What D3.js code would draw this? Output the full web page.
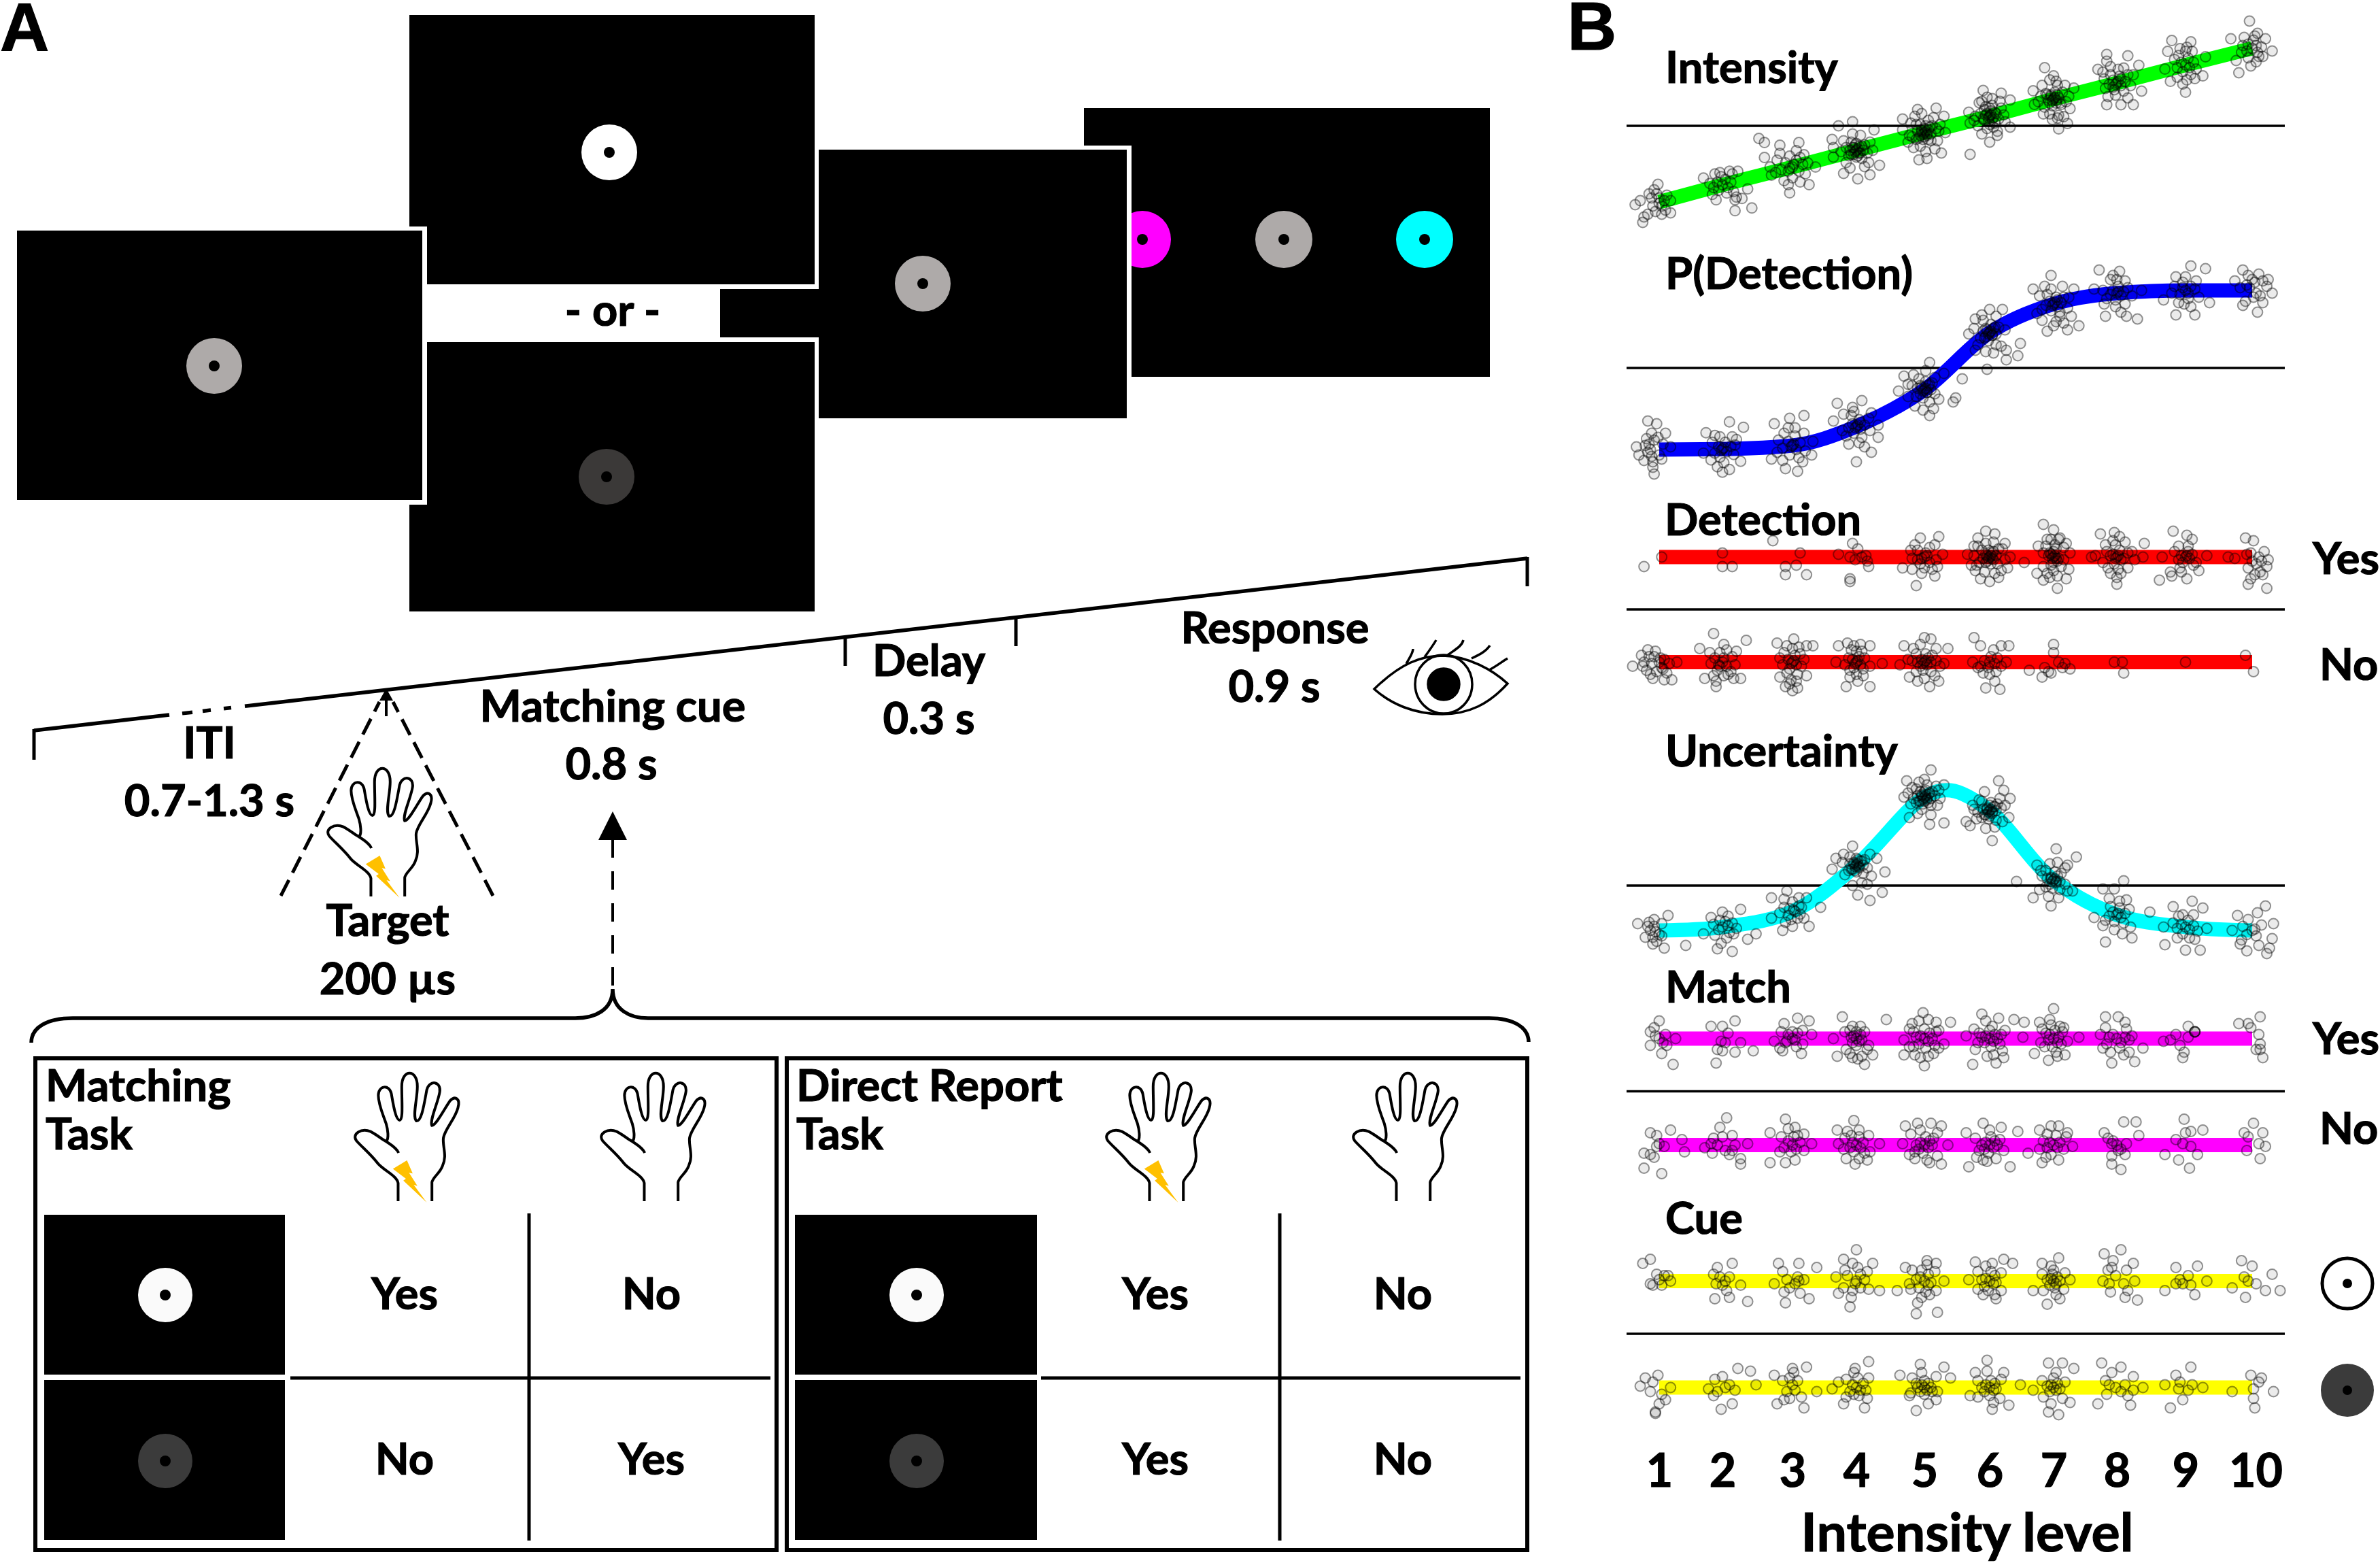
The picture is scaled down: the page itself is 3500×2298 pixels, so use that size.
<!DOCTYPE html>
<html>
<head>
<meta charset="utf-8">
<script src="https://cdnjs.cloudflare.com/ajax/libs/d3/7.8.5/d3.min.js"></script>
<style>
body {margin: 0; background: #fff;}
text {font-family: Lato, "Open Sans", sans-serif; font-weight: 700; fill: #000; stroke: #000; stroke-width: 1.2px;}
</style>
</head>
<body>
<script>
//panel B data: intensity levels and the model curves
var levels = [1, 2, 3, 4, 5, 6, 7, 8, 9, 10];
var intensityValues = [0, 12.6, 25.7, 38, 51, 63, 75.7, 87.5, 100.7, 113];
var pDetectionValues = [0, 0.4, 3, 17, 44, 86, 107, 115, 117, 117];
var uncertaintyLevels = [1, 2, 3, 4, 5, 5.4, 6, 7, 8, 9, 10];
var uncertaintyValues = [0, 2.5, 14, 48, 98, 103, 88, 37, 11.5, 2.5, 0];
var flatValues = [0, 0, 0, 0, 0, 0, 0, 0, 0, 0];

//per level dots, flat dx,dy pairs around the curve
var intensityDots = [
[-19,-2,-12,-11,-13,-15,-9,-9,-15,1,-1,13,-2,6,-4,9,9,-8,2,-9,5,-6,-5,-3,4,1,0,3,9,1,-6,3,0,-1,2,-3,-3,-7,6,5,-8,6],
[21,-17,9,-19,14,-10,9,-11,-15,5,5,10,11,10,18,-3,-2,9,0,0,-4,2,4,-2,2,4,-3,-4,6,2,-7,-2,3,-6,-1,6,8,-5,-10,1,-6,8,7,8,-8,-7,10,-9,-5,-11],
[-24,21,-20,18,-20,7,-9,16,5,18,-2,-19,13,-13,18,0,-15,-6,-16,0,0,0,-5,3,5,-3,-3,-3,3,5,8,2,-8,-2,0,-8,-2,8,10,-5,6,7,-11,5,1,2,-2,-1,-9,10,9,9,-6,-10,6,-11,12,3,-12,-4,3,12,-3,-13],
[-14,18,-3,21,13,15,-19,8,-18,2,-10,-17,1,-21,10,-18,17,-11,-18,-5,0,0,-3,2,3,-2,2,3,-2,-3,5,0,-5,0,0,5,0,-5,6,4,-6,-4,4,-6,-4,6,8,-2,-8,2,9,-9,1,1,-1,-1,2,-2,-2,2,4,3,-4,-3,1,-4,-1,4,-10,7,10,6,-8,-9,6,-12,-3,12,3,11,12,0,-12,-1,-5,-13],
[9,18,-5,17,-16,10,15,12,-4,-20,13,-15,2,-19,16,0,-16,2,0,0,-2,2,2,-2,3,2,-3,-2,5,-1,-5,1,1,5,-1,-5,6,5,-6,-5,5,-6,-6,6,9,3,-9,-3,3,9,-3,-10,10,-6,-10,7,1,1,-1,-1,2,-1,-2,1,4,4,-4,-4,0,3,0,-3,3,-5,-3,6,-7,12,7,11,-11,-2,11,1,-8,-11,8,-12,-2,14,1,-14,-12,-7,12,6],
[-15,-28,-5,19,9,17,0,-19,-15,-5,16,-8,16,12,-16,3,0,0,-3,1,3,-1,1,4,-1,-4,5,2,-5,-2,4,-5,-4,5,7,-2,-7,2,2,8,-2,-9,9,6,-9,-7,6,-11,-6,11,11,1,-11,0,1,1,-1,-1,2,-2,-2,2,4,3,-4,-3,0,6,0,-6,3,-8,-3,7,-8,10,8,11,-12,-3,12,-4,-6,-13,6,-14,-2,14,2,13],
[-7,23,0,17,4,-22,11,-18,-15,-4,-16,6,16,8,13,-7,0,0,-2,3,2,-3,4,1,-4,-1,1,5,-1,-5,6,-4,-6,4,7,5,-7,-6,3,10,-3,-11,10,-2,-10,2,4,-12,1,1,-1,-1,2,-1,-2,2,3,3,-3,-3,5,-3,-5,3,-9,10,9,10,-12,-2,12,2,-8,-11,8,-13,-3,14,2,13,-1,-15,3,-14],
[-8,21,8,20,-15,10,-8,-16,3,-16,12,-16,16,13,18,-6,-8,16,0,0,-3,2,3,-2,2,5,-2,-5,6,1,-6,-1,5,-6,-5,6,8,6,-9,-4,1,10,-1,-9,1,1,-1,-1,3,3,-3,-3,-10,3,10,-2,-5,12,5,11,-7,-10,8,-11,-11,8,12,6],
[-10,18,4,17,0,-20,-11,-12,13,-8,15,6,-13,10,-15,-3,0,0,-3,2,3,-2,2,5,-2,-5,6,2,-6,-2,4,-7,-5,7,0,10,1,-11,-8,4,8,-3,-4,12,5,10,-6,-9,7,-10,-2,-14,1,13],
[-2,20,15,-2,-10,-18,4,11,-16,7,-12,-9,10,7,3,-10,8,-6,0,0,3,2,-3,3,4,-3,-4,-2,1,6,7,1,-7,2,-6,8,5,-6,-3,-7,-8,-3,2,9,-1,-13]];
var pDetectionDots = [
[-9,21,-2,19,5,12,-18,2,-16,-4,-5,-13,-4,-18,9,2,-7,0,-8,4,-6,-5,-9,-2,-4,7,-5,-9,0,-4,-10,8,3,4,-12,-8,-11,3,-6,12,2,-7,-1,9],
[5,20,15,16,-13,12,0,-17,13,-9,5,-15,-15,-3,0,0,-3,2,3,-2,2,5,-2,-6,6,2,-6,-3,1,-10,-2,9,8,-4,-8,5,1,1,-1,-1,-6,10,7,9,-9,-8,9,3,-4,-13,10,7],
[9,22,-2,20,-13,16,4,-19,15,-7,-15,-10,16,3,-5,-17,0,0,-3,3,3,-3,2,7,-2,-7,6,2,-7,-2,5,-9,-6,9,9,9,1,1,-1,-1,-10,4,10,-4,-7,-11,2,13,-3,13,-11,-5,8,-12],
[-15,17,4,19,16,-8,0,-26,11,-19,-18,4,16,1,0,0,-3,2,3,-2,2,5,-2,-5,6,1,-6,-1,4,-8,-4,8,9,6,-8,-7,2,-12,-2,11,1,1,-1,-1,3,3,-10,9,-11,-3,10,-3,-6,-13,6,-15,-3,14,11,10],
[4,20,-15,10,-19,-1,24,-6,22,-9,29,8,4,-19,15,12,0,0,-2,2,2,-2,3,3,-3,-3,5,0,-5,1,1,6,-1,-6,6,5,-6,-5,-4,8,4,-9,8,-3,-9,3,1,1,-1,-1,2,-2,-3,3,4,4,-8,11,8,9,-12,-5,11,-7,-7,-12,7,-14,1,14,-1,-15,-12,4],
[0,17,10,17,-16,-1,24,-8,22,-17,-2,-27,13,-20,-11,10,0,0,-2,2,2,-2,3,3,-3,-3,5,-1,-5,1,1,6,-1,-6,7,4,-7,-4,5,-9,-5,9,9,-10,-9,-9,1,1,-1,-1,2,-2,-3,3,4,4,-4,-4,-12,3,12,2,-6,13,5,12,-3,-14,3,-15,13,-13,-11,-13],
[-2,21,-16,11,16,11,20,-16,11,-19,-5,-20,5,-9,-13,-7,0,0,-3,2,3,-2,2,5,-2,-5,6,1,-6,-1,5,-6,-5,7,8,5,-9,-4,-2,11,2,-13,11,-3,1,1,-1,-1,3,3,-11,6,12,5,-7,13,7,13,-9,-12,8,-14,0,-16,14,-9],
[-14,17,2,16,15,-19,7,-17,-9,-17,-18,3,18,2,0,0,-3,2,3,-2,1,5,-1,-5,5,1,-5,-1,0,10,-1,-10,8,4,-8,-4,6,-8,1,1,-5,10,6,9,-10,-8,11,-2,-11,2,3,-14,-3,13],
[4,18,15,16,18,-9,-7,-18,7,-18,-16,-7,-7,10,0,0,-2,2,2,-2,-2,6,2,-6,-4,-3,4,3,0,10,-1,-10,7,1,-8,3,8,7,-5,-9,4,-12,10,-5,-10,-2],
[-7,15,5,12,15,-2,4,-16,-13,7,11,3,-5,-8,-2,2,3,-2,0,8,-4,4,6,-4,1,-5,8,7,-9,2,2,6,-7,-11,-3,11,8,-9,12,8]];
var detectionYesDots = [
[-12,-7,2,0],
[0,3,0,-7,7,-7],
[-14,12,6,3,-5,-7,3,-6,-5,-13,11,-13],
[-3,10,-14,2,-5,0,4,0,8,-3,-5,-16,-5,-18,1,6,7,1,-1,-2,9,-7],
[11,15,-3,14,-16,-8,-6,-21,8,-14,14,2,0,0,-5,5,-5,-2,4,-4,-9,-1,0,-8,4,7,-2,-12,6,-9,-10,5,9,-2,-3,-5,2,1,-2,-1,-7,9,8,9,-9,-9,10,-7,1,3],
[-17,2,-14,-6,-12,8,-9,14,-3,19,4,17,12,10,16,0,14,-8,7,-15,0,-18,-7,-16,-11,-10,0,0,-3,2,3,-2,2,3,-2,-3,5,1,-5,-1,1,-5,-1,5,6,-5,-6,5,7,6,-8,-4,1,1,-1,-1,2,-1,-2,1,3,4,-3,-4,-9,8,10,6,-10,-6,9,-10,-3,10,3,11,-4,-11,4,-12,-12,1,12,-2],
[-8,24,0,20,5,14,-2,13,-12,8,-23,-4,-13,-12,-8,-17,3,-23,10,-16,12,-9,13,3,10,10,0,0,-3,3,3,-3,2,6,-2,-6,4,-1,-4,1,0,-10,1,9,-5,-12,6,-7,-6,8,1,1,-1,-1,2,-1,-2,2,0,4,0,-4,-8,3,8,-2,-5,13,4,13,-3,-15,3,-14,-8,-7,8,7],
[-13,17,-9,9,-2,18,2,15,20,10,-17,1,-20,0,-11,-4,19,0,-5,-12,0,-20,0,-15,8,-8,13,-2,11,4,0,0,-3,2,3,-2,2,5,-2,-5,5,-1,-5,1,1,-9,-1,9,1,1,-1,-1,-8,4,8,3,-7,-8,6,11,-3,12,3,-12],
[-9,19,1,16,5,13,-5,8,-19,-17,-11,-11,-10,-14,1,-16,-3,-11,10,-10,-17,0,16,1,0,0,-3,1,3,-1,2,4,-2,-4,5,2,-5,-2,1,1,-8,4,8,-4,-4,-8,6,-6,2,8],
[-5,14,1,12,-18,0,-13,-1,-3,-8,-1,-16,-3,-20,11,-23,11,-7,12,-2,9,4,-1,3,0,-3,3,-5,5,0,-4,2,2,-13,6,-11,8,-13,7,-3]];
var detectionNoDots = [
[-21,-3,-14,5,-12,0,-9,9,-7,-9,-13,-3,-5,-12,-2,-7,4,-13,10,-13,14,0,8,-1,3,-5,1,3,-4,4,-6,-1,0,0,4,2,2,-4,-10,-6,-8,4,-3,8,6,-8],
[-7,21,17,16,-18,10,13,-12,-5,-18,-5,-14,-14,-12,4,-9,-2,7,3,9,-6,3,7,4,0,0,-3,-2,3,-3,1,3,9,-2,-9,-1,-4,-6,6,-7,1,-10,-10,7,10,8,-7,-10,8,-12,1,13,-2,-3],
[-11,14,11,12,16,12,-5,-18,0,-21,4,-19,-9,-11,11,-10,1,17,-6,7,6,6,0,0,-3,2,3,-2,2,5,-2,-5,-7,-2,7,-3,4,-9,-4,-8,0,10,-1,-13,1,1,-1,-1,-9,3,9,2,-4,12,5,11,-2,-16,3,-14],
[-14,12,-7,14,10,12,-8,-18,10,-18,1,-14,19,-1,-16,0,0,0,-3,2,3,-2,2,4,-2,-4,-6,3,6,3,-5,-6,5,-5,0,8,0,-9,-4,9,4,8,1,1,-1,-1,-9,-2,10,-3,-5,-11,5,-10,-2,12,3,13],
[0,18,5,17,-15,12,-18,-2,-11,-11,4,-18,11,-14,18,10,15,-1,0,0,-2,2,2,-2,3,3,-3,-3,5,0,-5,0,1,6,-1,-6,6,5,-6,6,5,-7,-6,-7,9,1,-9,1,1,1,-1,-1,-8,10,9,10,-3,13,-12,2,12,-3,0,-12,-5,-14,8,-10],
[-12,18,15,12,9,12,-3,-19,8,-20,4,-14,-13,0,13,0,-7,12,0,0,-4,1,4,-1,1,4,-1,-4,6,3,-7,-3,-5,-8,5,-7,-9,-4,9,-3,0,-9,3,9],
[0,13,0,7,4,0,9,-1,-4,-7,-9,-11,13,-5,7,-4,-19,-6,-2,-8,-7,-4],
[-2,0,4,0,5,-8],
[0,0],
[-5,5,1,-7]];
var uncertaintyDots = [
[-17,5,7,11,2,5,21,-11,4,-13,-5,-10,-11,-5,-4,8,-7,0,0,-3,-4,3,-9,3,2,-4,-5,-5,-2,-8,-8,6,-3,-1],
[-4,-16,13,13,24,-5,18,-9,-15,-5,7,-18,-9,7,0,11,0,0,4,1,-3,-2,5,-4,2,4,-2,5,7,3,-6,-6,3,-8,8,-5,-7,2,-1,-12,10,-1,4,8],
[-15,10,-4,15,11,10,22,3,-7,-14,13,-11,-15,-5,0,-11,5,4,2,0,-2,2,6,-2,-3,-3,4,-5,7,3,-6,3,0,7,-1,-6,1,1,-9,-1,9,-5,-6,9,5,10,-5,-8],
[-3,14,-19,-3,10,-26,19,-20,21,-5,15,5,-16,5,1,-22,-10,8,0,0,-2,2,2,-2,3,3,-3,-3,5,0,-5,1,0,5,0,-5,6,4,-6,-4,5,-6,-5,6,8,-2,1,1,-1,-1,2,-1,-2,1,4,3,-4,-3,1,4,-1,-4,-9,-7,10,8,11,-8,-11,2,4,-13,-3,-15,8,-14],
[5,20,-13,12,11,5,15,9,15,-19,4,-20,-11,-15,-15,0,-4,11,0,0,-2,2,2,-2,3,2,-3,-3,5,-1,-5,1,1,5,-1,-5,6,4,-6,-4,5,-6,-6,6,8,1,-8,-1,2,9,-2,-9,1,1,-1,-1,2,-1,-2,1,4,3,-4,-3,0,4,0,-3,3,-4,-3,4,-9,7,9,8,-10,-5,10,-6,-5,-12,5,-13,0,13,-12,3,12,-1],
[7,22,2,-22,-18,-8,-15,-11,16,9,15,-5,-4,14,-13,4,11,15,0,0,-2,2,2,-2,3,3,-3,-3,5,0,-5,1,1,6,-1,-6,6,5,-6,-5,5,-7,-6,7,9,2,-9,-1,1,1,-1,-1,2,-1,-2,1,4,3,-4,-3,0,4,0,-4,-8,8,8,9,-10,-6,10,-8,-3,-13,4,-12,12,4,-12,1],
[2,23,18,17,-29,-1,-16,-13,-2,-19,15,-8,-13,11,11,11,0,0,-2,2,2,-2,3,3,-3,-3,5,-1,-5,1,1,6,-1,-6,6,5,-6,-5,5,-7,-6,7,9,-3,-9,3,1,1,-1,-1,2,-1,-2,1,-10,7,9,9,-11,-7,11,-8,-3,12,3,13,-4,-12,4,-13],
[5,25,-11,19,24,2,-9,-20,11,-17,-18,-2,-2,19,4,-14,0,0,-3,2,3,-2,2,5,-2,-5,6,1,-6,-1,5,-6,-5,6,9,4,-9,-4,1,1,-6,12,7,11,-11,-8,10,-9,-2,-11,2,10],
[5,19,13,14,-9,15,11,-17,-15,-13,0,-17,16,-1,-16,0,0,0,-3,2,3,-2,2,5,-2,-5,6,1,-6,-1,-2,9,3,-8,-9,3,9,-3,-6,-8,7,-9,-5,8,6,9],
[10,18,4,13,-11,11,16,5,15,-6,11,-17,-4,-15,-15,0,13,-13,-4,-3,2,1,-7,3,0,0,3,-4,-8,-7,7,4,-3,8,5,-11,-9,-10]];
var matchYesDots = [
[0,13,-7,5,-7,-5,11,-19,2,-11,13,0,0,0,5,3,3,-3,-3,2,6,-5,-4,8],
[9,13,0,9,-5,-18,0,-9,22,-9,13,-3,9,-10,-9,9,-1,-2,2,-3,4,4,-4,-8],
[-6,11,4,15,13,13,7,-11,-7,-9,0,5,-4,-2,2,-1,-13,-2,15,3,0,0,-3,3,4,4,-5,-3,3,-6,8,6,-8,5,8,-4,-9,-7],
[-11,16,22,14,6,-19,-15,-13,-18,0,-3,9,3,9,12,-12,-5,-11,1,-15,0,0,-2,2,2,-2,3,3,-3,-3,4,-1,-4,1,0,5,0,-5,6,5,-5,6,-9,5,9,-5,-8,-8,8,-8,4,-13,-3,-14],
[-1,19,20,12,0,-20,-15,-12,-15,-1,15,-4,-9,11,9,12,-7,-12,7,-11,-4,13,0,0,-3,2,3,-2,4,4,-4,-4,6,0,-6,1,0,7,1,-7,8,-5,-8,5,9,5,-8,-6,-11,7,11,6,-11,-6,11,-7,-3,-14,3,-13,3,14],
[-6,18,7,15,19,14,27,12,-13,-19,5,-18,11,-14,-18,2,26,1,2,9,0,0,-3,2,3,-2,4,3,-4,-3,6,0,-6,1,0,6,1,-6,8,-4,-8,4,9,3,-9,-3,-12,7,12,6,-11,-8,10,-9,-3,13,-2,-13,3,-12],
[0,22,-11,12,20,1,-4,-16,-15,-11,9,-12,5,9,0,0,-3,3,3,-3,4,1,-4,-1,1,6,-1,-6,6,-4,-6,4,7,5,-7,-6,-2,10,2,-10,-9,7,8,8,-10,-3,11,-2,-3,14,3,-13],
[-9,16,1,16,-4,-18,13,-17,-13,3,19,-7,6,12,-8,-4,5,-12,0,0,-3,3,3,-3,6,1,-6,1,9,-1,11,2,2,-7,-9,8,7,7,-5,-10,9,-10,-11,-7],
[2,9,7,5,7,5,7,5,-2,-14,-4,-5,-16,-2,-7,3,-11,-1,2,1,-1,-10],
[6,16,-10,11,8,-14,-1,8,6,-4,5,3,3,-8,-3,11,6,-8]];
var matchNoDots = [
[9,11,-2,7,-12,-6,-7,-7,-12,-17,2,-21,-4,-9,20,-5,18,4,0,1,-7,9,-2,-1,4,-1],
[3,20,-2,13,13,-14,0,6,9,0,18,1,-9,1,5,-7,-4,0,2,-4,7,7,13,-10,-14,-2,-7,5,-8,-6,7,-4],
[-5,19,-16,9,-16,-13,-5,-13,2,-11,15,1,4,7,2,13,9,-4,0,0,-3,3,3,-3,6,2,-6,-2,1,6,-1,-5,-8,6,-9,-5,9,8,-3,12],
[-2,18,-15,11,2,-10,-8,-10,8,-11,17,1,-14,1,-7,10,0,0,-3,2,3,-2,5,2,-5,-2,2,6,-2,-5,-4,7,6,-6,-10,-3,10,-5,-9,5,9,7,2,11,-1,-14],
[-14,14,-5,16,5,16,13,14,-16,1,13,-14,4,-13,-7,-10,18,0,0,0,-3,2,3,-2,4,3,-4,-3,6,0,-6,0,1,6,-1,-6,7,5,-7,-5,-10,8,10,9,-11,-7,10,-8,-3,11,2,-11],
[-5,16,-18,9,22,10,16,-16,-16,-16,-5,-11,9,13,5,-10,0,0,-3,2,3,-2,4,3,-4,-3,6,0,-6,0,1,6,-1,-6,8,4,-8,-4,-11,5,11,-4,-10,-9,0,11,-2,-12],
[4,14,-11,11,11,9,-20,-6,15,-1,-9,-13,4,-11,-2,14,0,0,-3,2,3,-2,5,2,-5,-2,2,7,-2,-7,8,-3,-8,3,-11,-3,10,6,-6,-9,-5,8],
[14,17,5,17,-10,9,3,-18,-4,-14,16,7,0,0,7,1,-4,1,1,-4,-3,3,3,-3,-7,5,6,-7,-4,-8],
[-1,19,13,11,-15,-7,3,-17,-5,-11,9,-7,0,9,-2,1,4,-1,-7,4,4,10],
[1,16,-6,9,10,-1,6,-10,-4,-4,5,1,8,9,-3,6]];
var cueYesDots = [
[-13,13,-7,16,-2,5,-5,-3,9,0,4,4,0,1,-7,-2,2,-3,7,4],
[7,13,-4,10,-6,-13,5,-12,18,-15,13,-3,2,0,-2,3,5,3,0,-3,-5,-2,3,-7,-7,5],
[-10,13,5,13,19,10,-5,-16,13,-13,-13,-2,2,-2,5,0,-2,-5,4,3,9,1,-4,1,-6,-8,6,-9,-7,7],
[0,23,-10,16,-3,13,-5,-19,17,-7,-14,-9,12,13,-16,3,3,5,-1,-2,-7,4,6,1,-3,-7,0,0,3,-5,-9,8,8,7,-10,-5,9,-6,1,10,-4,-12],
[-6,-24,10,-23,2,15,-14,10,-20,-7,9,13,-5,-16,4,-10,-11,-2,15,0,0,0,-3,3,3,-3,3,5,-4,-5,5,-1,-6,1,1,-8,-2,8,-9,8,8,7,-10,-6,9,-7,-2,-12,2,12],
[11,16,18,13,-11,14,-16,1,5,-13,-5,-10,2,13,0,0,-3,2,3,-2,4,4,-4,-4,5,-1,-6,1,1,7,-1,-7,-9,7,9,6,-9,-6,9,-7,-3,11,4,-10],
[4,17,-9,13,-5,-17,5,-13,-16,-7,13,1,0,8,0,0,-2,2,2,-2,3,3,-3,-3,5,0,-5,1,1,-5,-1,5,-9,5,9,6,-8,-7,8,-6,-2,11,2,-10],
[3,23,-10,20,15,-14,6,-12,-4,10,12,13,-11,0,-1,4,5,-2,-6,-2,13,0,-3,15,-7,8,8,-7,-5,-8,7,8],
[-7,10,9,11,7,-10,-15,-7,16,0,-4,1,4,-3,-2,-2,-7,-2,2,4],
[-8,15,0,11,15,5,21,-7,10,-7,-5,-12,-15,-5,3,-2,-6,3,-3,0]];
var cueNoDots = [
[-11,7,-1,9,-3,-18,-3,-19,5,-9,-15,1,-7,-3,9,0,2,-5,-5,4,0,-12],
[20,12,11,14,-1,-16,7,-12,-11,-1,0,8,2,0,5,2,-4,-3,9,-2,24,2,-6,6,-7,-6],
[0,14,-13,9,11,15,-11,-12,9,-15,19,-3,-2,-8,0,2,2,-2,-2,7,-4,-3,4,5,-7,5,7,-7,-6,-9,1,11],
[9,19,-1,14,-10,-12,6,-15,-19,-1,-14,4,1,7,0,0,-3,2,3,-2,5,3,-5,-3,2,-6,-2,-5,7,-2,-8,6,9,7,-8,-7,8,-8,-2,11],
[-3,17,-18,9,15,15,20,7,-6,-17,-11,-6,9,-9,0,0,-2,2,2,-2,3,3,-3,-3,5,0,-5,0,0,5,0,-5,6,-3,-6,3,-9,7,9,8,-10,-4,10,-3,3,-12,-2,11],
[-2,20,11,11,-11,11,15,-13,2,-16,-15,-6,24,2,0,0,-3,2,3,-2,4,3,-4,-3,5,-1,-6,0,0,-6,1,5,-9,5,9,6,-9,-7,8,-8,-2,12,3,-11],
[-4,18,7,18,16,14,4,-20,-4,-18,13,-11,-16,-2,0,7,0,0,-2,2,2,-2,3,3,-3,-3,5,-1,-5,1,-9,5,9,4,-8,-7,7,-8,-2,-12,2,11],
[-12,18,3,15,-15,-12,10,-13,19,0,-4,11,12,8,-1,0,6,2,-6,2,3,-3,12,-2,-9,5,-8,-5,8,-6],
[4,15,-7,9,-11,-15,13,0,-15,2,-2,-9,-4,4,2,-2,-5,-1,5,2],
[7,7,-1,9,16,-3,2,-15,-15,-3,1,-8,5,4,1,-1]];

//task tables of panel A
var tableAnswers = [["Yes", "No", "No", "Yes"], ["Yes", "No", "Yes", "No"]];

var width = 3500, height = 2298;

var svg = d3.select("body").append("svg")
    .attr("width", width)
    .attr("height", height);

//---------- panel A ----------
var label = function(str, x, y, anchor, size) {
    return svg.append("text")
        .attr("x", x)
        .attr("y", y + 1)
        .attr("text-anchor", anchor || "middle")
        .attr("font-size", size || 65)
        .text(str);
}

var box = function(x, y, w, h, fill) {
    return svg.append("rect").attr("x", x).attr("y", y).attr("width", w).attr("height", h).attr("fill", fill || "#000");
}

var ring = function(cx, cy, r, fill) {
    svg.append("circle").attr("cx", cx).attr("cy", cy).attr("r", r).attr("fill", fill);
    svg.append("circle").attr("cx", cx).attr("cy", cy).attr("r", 8).attr("fill", "#000");
}

//screens, back to front
box(1594, 159, 597, 395);
ring(1680, 352, 42, "#ff00ff");
ring(1888, 352, 42, "#aeaaa9");
ring(2095, 352, 42, "#00ffff");
box(1198, 214, 466, 407, "#fff");
box(1204, 220, 453, 395);
box(1059, 425, 145, 71);
ring(1357, 417, 41, "#aeaaa9");
box(602, 22, 602, 402, "#fff");
box(602, 22, 596, 396);
ring(896, 224, 41, "#fff");
box(602, 497, 602, 408, "#fff");
box(602, 503, 596, 396);
ring(892, 701, 41, "#3b3938");
box(25, 333, 603, 409, "#fff");
box(25, 339, 596, 396);
ring(315, 538, 41, "#aeaaa9");

label("A", 0, 74, "start", 100).style("font-family", "Liberation Sans");
label("B", 2305, 72, "start", 100).style("font-family", "Liberation Sans");
label("- or -", 901, 478);

//slanted timeline
var timeY = d3.scaleLinear().domain([50, 2246]).range([1074, 821]);
var timeSegments = [[50, 249], [268, 283], [298, 310], [329, 340], [360, 2246]];
timeSegments.forEach(function(s) {
    svg.append("line")
        .attr("x1", s[0]).attr("x2", s[1])
        .attr("y1", timeY(s[0])).attr("y2", timeY(s[1]))
        .attr("stroke", "#000").attr("stroke-width", 5.5);
});
[[50, 1072, 1117], [1243, 936, 979], [1494, 907, 950], [2246, 819, 862]].forEach(function(t) {
    svg.append("line")
        .attr("x1", t[0]).attr("x2", t[0]).attr("y1", t[1]).attr("y2", t[2])
        .attr("stroke", "#000").attr("stroke-width", 5);
});

label("ITI", 308, 1114);
label("0.7-1.3 s", 308, 1199);
label("Matching cue", 901, 1060);
label("0.8 s", 899, 1145);
label("Target", 570, 1375);
label("200 µs", 570, 1461);
label("Delay", 1366, 993);
label("0.3 s", 1366, 1078);
label("Response", 1875, 945);
label("0.9 s", 1874, 1031);

//target cone and small arrow
[[413, 1317, 558, 1032], [725, 1317, 578, 1032]].forEach(function(l) {
    svg.append("line")
        .attr("x1", l[0]).attr("y1", l[1]).attr("x2", l[2]).attr("y2", l[3])
        .attr("stroke", "#000").attr("stroke-width", 5).attr("stroke-dasharray", "26,12");
});
svg.append("line").attr("x1", 568).attr("x2", 568).attr("y1", 1025).attr("y2", 1053)
    .attr("stroke", "#000").attr("stroke-width", 4);
svg.append("path").attr("d", "M568,1012L578,1030L558,1030Z").attr("fill", "#000");

//matching cue arrow and brace
svg.append("line").attr("x1", 901).attr("x2", 901).attr("y1", 1234).attr("y2", 1454)
    .attr("stroke", "#000").attr("stroke-width", 4).attr("stroke-dasharray", "27,20");
svg.append("path").attr("d", "M901,1193L922,1235L880,1235Z").attr("fill", "#000");
svg.append("path")
    .attr("d", "M46,1533C46,1510 70,1497 107,1497L846,1497C875,1497 901,1485 901,1454C901,1485 927,1497 953,1497L2190,1497C2225,1497 2248,1510 2248,1532")
    .attr("fill", "none").attr("stroke", "#000").attr("stroke-width", 5.5);

//eye
var eye = svg.append("g").attr("fill", "none").attr("stroke", "#000").attr("stroke-width", 3.5);
eye.append("path").attr("d", "M2021,1013C2060,975 2090,964 2122,964C2160,965 2195,985 2217,1005C2190,1035 2160,1050 2121,1050C2080,1050 2045,1035 2021,1013Z");
eye.append("ellipse").attr("cx", 2123).attr("cy", 1006).attr("rx", 42).attr("ry", 43);
eye.append("ellipse").attr("cx", 2123).attr("cy", 1006).attr("rx", 23).attr("ry", 23).attr("fill", "#000");
eye.append("path").attr("d", "M2068,976C2074,965 2078,960 2078,954M2095,966C2103,955 2108,948 2112,941M2129,963C2140,955 2150,950 2152,941M2164,968C2175,963 2185,958 2191,949M2190,985C2200,980 2210,972 2217,968");

//hand traced in zoom coordinates, bolt for the stimulated ones
var handPath = "M765,548L765,497C762,475 735,460 725,440C712,415 695,395 685,378C675,358 695,342 712,352C725,362 735,375 742,380C748,372 745,345 742,330C735,300 727,275 727,250C727,222 748,218 752,245C755,270 760,320 768,320C775,320 772,270 772,225C772,175 802,175 802,225C802,260 792,310 800,322C810,325 815,275 820,235C825,205 848,210 845,240C842,270 825,320 830,335C838,335 855,285 865,265C875,250 885,260 880,285C875,315 855,345 852,370C850,395 860,420 850,450C845,470 832,480 830,495L830,548M742,380C750,388 762,398 766,412";
var boltPath = "M755,457L782,433L793,470L786,468L802,505L795,502L820,552L775,490L780,485Z";
var hand = function(dx, dy, bolt) {
    var g = svg.append("g")
        .attr("transform", "translate(" + dx + "," + (1480 + dy) + ") scale(0.7653,0.5217)");
    if (bolt) g.append("path").attr("d", boltPath).attr("fill", "#ffc000");
    g.append("path").attr("d", handPath)
        .attr("fill", "none").attr("stroke", "#000").attr("stroke-width", 4)
        .attr("vector-effect", "non-scaling-stroke");
}
hand(-40, -448, true);
hand(0, 0, true);
hand(362, 0, false);
hand(1105, 0, true);
hand(1468, 0, false);

//task tables
var taskBoxes = [
    {x: 52, w: 1090, sq: 65, sqw: 354, cx: 243, vx: 778, h0: 427, h1: 1133, ansX: [595, 958], title: ["Matching", "Task"], textX: 67},
    {x: 1157, w: 1089, sq: 1169, sqw: 356, cx: 1348, vx: 1882, h0: 1531, h1: 2236, ansX: [1699, 2063], title: ["Direct Report", "Task"], textX: 1171}
];
taskBoxes.forEach(function(b, i) {
    box(b.x, 1556, b.w, 723, "none").attr("stroke", "#000").attr("stroke-width", 6);
    box(b.sq, 1786, b.sqw, 235);
    box(b.sq, 2029, b.sqw, 235);
    ring(b.cx, 1904, 40, "#fafafa");
    ring(b.cx, 2148, 40, "#3b3b3b");
    svg.append("line").attr("x1", b.vx).attr("x2", b.vx).attr("y1", 1784).attr("y2", 2265)
        .attr("stroke", "#000").attr("stroke-width", 5);
    svg.append("line").attr("x1", b.h0).attr("x2", b.h1).attr("y1", 2026).attr("y2", 2026)
        .attr("stroke", "#000").attr("stroke-width", 5);
    label(b.title[0], b.textX, 1618, "start");
    label(b.title[1], b.textX, 1689, "start");
    label(tableAnswers[i][0], b.ansX[0], 1924);
    label(tableAnswers[i][1], b.ansX[1], 1924);
    label(tableAnswers[i][2], b.ansX[0], 2167);
    label(tableAnswers[i][3], b.ansX[1], 2167);
});

//---------- panel B ----------
//the levels sit slightly unevenly on the page, so the x scale is piecewise
var x = d3.scaleLinear()
    .domain(levels)
    .range([2440, 2533, 2636, 2730, 2830, 2926, 3020, 3113, 3214, 3312]);

var rows = [
    {base: 297, lineX: levels, values: intensityValues, dots: intensityDots, color: "#00ff00", sep: 185},
    {base: 661, lineX: levels, values: pDetectionValues, dots: pDetectionDots, color: "#0000ff", sep: 541, curve: d3.curveMonotoneX},
    {base: 819, lineX: levels, values: flatValues, dots: detectionYesDots, color: "#ff0000", sep: 896},
    {base: 973.5, lineX: levels, values: flatValues, dots: detectionNoDots, color: "#ff0000"},
    {base: 1368, lineX: uncertaintyLevels, values: uncertaintyValues, dots: uncertaintyDots, color: "#00ffff", sep: 1302, curve: d3.curveCatmullRom},
    {base: 1527, lineX: levels, values: flatValues, dots: matchYesDots, color: "#ff00ff", sep: 1604.5},
    {base: 1683.5, lineX: levels, values: flatValues, dots: matchNoDots, color: "#ff00ff"},
    {base: 1883.5, lineX: levels, values: flatValues, dots: cueYesDots, color: "#ffff00", sep: 1961},
    {base: 2040, lineX: levels, values: flatValues, dots: cueNoDots, color: "#ffff00"}
];

rows.forEach(function(row) {
    //one value unit is 2 px in every row
    var y = d3.scaleLinear().domain([0, 100]).range([row.base, row.base - 200]);
    var valueAt = d3.scaleLinear().domain(row.lineX).range(row.values);

    if (row.sep) {
        svg.append("line")
            .attr("x1", 2392).attr("x2", 3360)
            .attr("y1", row.sep).attr("y2", row.sep)
            .attr("stroke", "#000").attr("stroke-width", 3.5);
    }

    var line = d3.line()
        .x(function(d) {return x(d[0]);})
        .y(function(d) {return y(d[1]);})
        .curve(row.curve || d3.curveLinear);

    svg.append("path")
        .attr("d", line(d3.zip(row.lineX, row.values)))
        .attr("fill", "none")
        .attr("stroke", row.color)
        .attr("stroke-width", 21);

    var pts = [];
    row.dots.forEach(function(flat, i) {
        for (var k = 0; k < flat.length; k += 2) {
            pts.push({level: levels[i] + flat[k] / 50, val: valueAt(levels[i]) + flat[k + 1]});
        }
    });

    svg.append("g").selectAll("circle")
        .data(pts)
        .enter().append("circle")
        .attr("cx", function(d) {return x(d.level);})
        .attr("cy", function(d) {return y(d.val);})
        .attr("r", 7.5)
        .attr("fill", "#000")
        .attr("fill-opacity", 0.08)
        .attr("stroke", "#000")
        .attr("stroke-opacity", 0.42)
        .attr("stroke-width", 2);
});

//row titles and side labels
label("Intensity", 2449, 121, "start");
label("P(Detection)", 2449, 424, "start");
label("Detection", 2448, 786, "start");
label("Uncertainty", 2449, 1126, "start");
label("Match", 2449, 1473, "start");
label("Cue", 2449, 1813, "start");
label("Yes", 3401, 843, "start");
label("No", 3411, 999, "start");
label("Yes", 3401, 1549, "start");
label("No", 3411, 1681, "start");

//cue symbols
svg.append("circle").attr("cx", 3452).attr("cy", 1887).attr("r", 37).attr("fill", "#fff").attr("stroke", "#000").attr("stroke-width", 5);
svg.append("circle").attr("cx", 3452).attr("cy", 1887).attr("r", 7).attr("fill", "#000");
svg.append("circle").attr("cx", 3452).attr("cy", 2044).attr("r", 39).attr("fill", "#3b3b3b");
svg.append("circle").attr("cx", 3452).attr("cy", 2044).attr("r", 7).attr("fill", "#000");

//intensity axis, numbers only
var axis = svg.append("g")
    .attr("transform", "translate(0,2186)")
    .call(d3.axisBottom(x).tickValues(levels).tickSize(0).tickFormat(d3.format("d")));
axis.select(".domain").remove();
axis.selectAll("text")
    .attr("y", 0).attr("dy", 0)
    .attr("dx", function(d) {return d == 10 ? 5 : 0;})
    .attr("font-size", 68)
    .style("font-family", "Lato");

label("Intensity level", 2893, 2280, "middle", 79);
</script>
</body>
</html>
